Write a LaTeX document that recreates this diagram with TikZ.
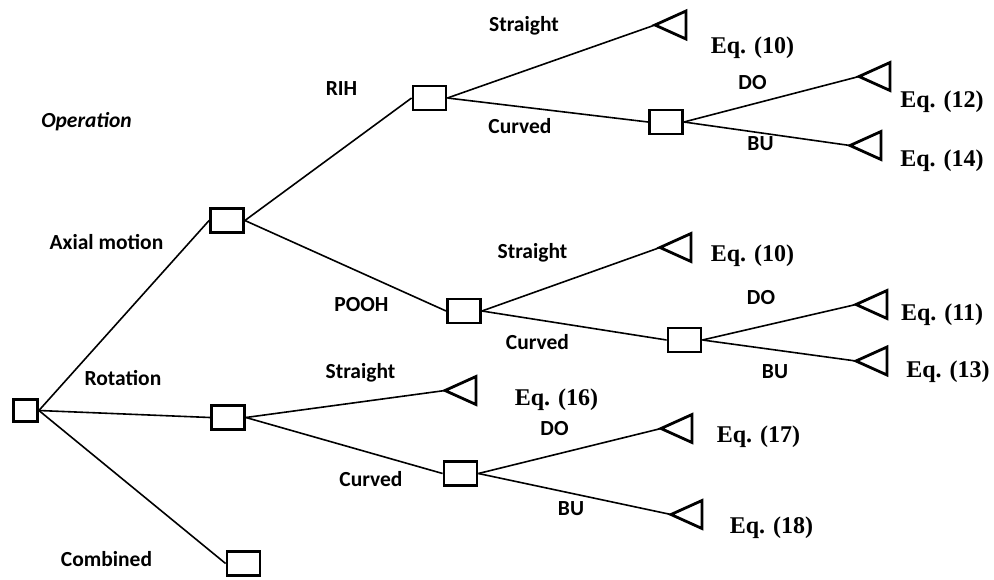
\documentclass[tikz,border=0pt]{standalone}
\usepackage{fontspec}
\setmainfont{Carlito}
\newfontfamily\eqfont{Liberation Serif}
\begin{document}
\begin{tikzpicture}[x=1pt,y=-1pt,
  box/.style={draw,line width=2.8pt,rectangle,inner sep=0pt,minimum width=33pt,minimum height=24pt},
  conn/.style={line width=1.6pt},
  lab/.style={anchor=base,font=\fontsize{21.5}{24}\selectfont\bfseries,inner sep=0pt},
  eqlab/.style={anchor=base,font=\fontsize{24}{26}\selectfont\eqfont\bfseries,inner sep=0pt},
  tri/.pic={\draw[line width=2.8pt,line join=miter] (0,0) -- (31,-14) -- (31,14) -- cycle;}]
\useasboundingbox (0,0) rectangle (994,579);
% boxes
\node[box,minimum width=24pt,minimum height=22pt] (root) at (25.5,410.5) {};
\node[box] (axial) at (227,220.5) {};
\node[box] (rot) at (228,417.5) {};
\node[box] (comb) at (243.5,563.5) {};
\node[box] (rih) at (429.5,98) {};
\node[box] (pooh) at (464,311) {};
\node[box] (rotc) at (460.5,473.5) {};
\node[box] (rihc) at (666,122) {};
\node[box] (poohc) at (684.5,340) {};
% triangle tips
\coordinate (trs) at (655,25);
\coordinate (trdo) at (859,76.5);
\coordinate (trbu) at (850,145.5);
\coordinate (tps) at (660,247.5);
\coordinate (tpdo) at (856,304.5);
\coordinate (tpbu) at (856,361);
\coordinate (txs) at (445,390.5);
\coordinate (txdo) at (661,428.5);
\coordinate (txbu) at (671,514.5);
\foreach \t in {trs,trdo,trbu,tps,tpdo,tpbu,txs,txdo,txbu} \pic at (\t) {tri};
% connectors
\draw[conn] (root.east) -- (axial.west);
\draw[conn] (root.east) -- (rot.west);
\draw[conn] (root.east) -- (comb.west);
\draw[conn] (axial.east) -- (rih.west);
\draw[conn] (axial.east) -- (pooh.west);
\draw[conn] (rih.east) -- (trs);
\draw[conn] (rih.east) -- (rihc.west);
\draw[conn] (rihc.east) -- (trdo);
\draw[conn] (rihc.east) -- (trbu);
\draw[conn] (pooh.east) -- (tps);
\draw[conn] (pooh.east) -- (poohc.west);
\draw[conn] (poohc.east) -- (tpdo);
\draw[conn] (poohc.east) -- (tpbu);
\draw[conn] (rot.east) -- (txs);
\draw[conn] (rot.east) -- (rotc.west);
\draw[conn] (rotc.east) -- (txdo);
\draw[conn] (rotc.east) -- (txbu);
% labels
\node[lab,font=\fontsize{21.5}{24}\selectfont\bfseries\itshape] (lop) at (86.5,127) {Operation};
\node[lab] (lrih) at (341.5,95) {RIH};
\node[lab] (lax) at (106.5,249) {Axial motion};
\node[lab] (lrs) at (524,31) {Straight};
\node[lab] (lrc) at (520,133) {Curved};
\node[lab] (lrdo) at (752.5,89) {DO};
\node[lab] (lrbu) at (760.5,150) {BU};
\node[lab] (lps) at (532.5,258) {Straight};
\node[lab] (lpooh) at (361.5,311) {POOH};
\node[lab] (lpc) at (537.5,349) {Curved};
\node[lab] (lpdo) at (761,304) {DO};
\node[lab] (lpbu) at (775,378) {BU};
\node[lab] (lrot) at (123,385) {Rotation};
\node[lab] (lxs) at (360.5,378.5) {Straight};
\node[lab] (lxc) at (371,486.5) {Curved};
\node[lab] (lxdo) at (554.5,435) {DO};
\node[lab] (lxbu) at (571,515.5) {BU};
\node[lab] (lcomb) at (106.5,566) {Combined};
% equation labels
\node[eqlab] (e10a) at (752.5,53) {Eq. (10)};
\node[eqlab] (e12) at (942,107) {Eq. (12)};
\node[eqlab] (e14) at (942,166) {Eq. (14)};
\node[eqlab] (e10b) at (752.5,261) {Eq. (10)};
\node[eqlab] (e11) at (942,320.5) {Eq. (11)};
\node[eqlab] (e13) at (948,377) {Eq. (13)};
\node[eqlab] (e16) at (556.5,405) {Eq. (16)};
\node[eqlab] (e17) at (758.5,442) {Eq. (17)};
\node[eqlab] (e18) at (771.5,533) {Eq. (18)};
\end{tikzpicture}
\end{document}
